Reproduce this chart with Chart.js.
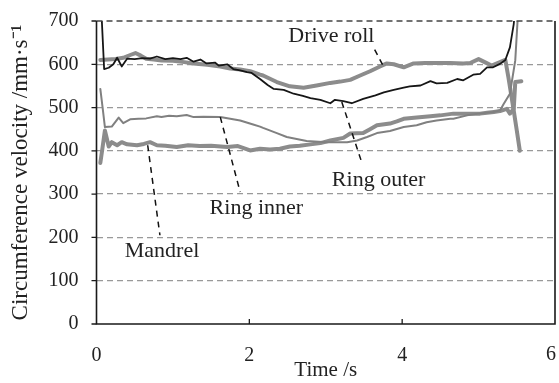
<!DOCTYPE html>
<html>
<head>
<meta charset="utf-8">
<script src="https://cdn.jsdelivr.net/npm/chart.js@4"></script>
<style>
  html, body { margin: 0; padding: 0; background: #fff; }
  #wrap { width: 559px; height: 383px; }
</style>
</head>
<body>
<div id="wrap"><canvas id="myChart" width="559" height="383"></canvas></div>
<script>
// circumference velocity vs time, four measured traces
const outerT = [0.06, 0.07, 0.10, 0.16, 0.22, 0.27, 0.33, 0.40, 0.50, 0.60, 0.70, 0.79, 0.90, 1.00, 1.10, 1.18, 1.27, 1.36, 1.44, 1.55, 1.60, 1.71, 1.79, 1.88, 1.97, 2.03, 2.14, 2.24, 2.32, 2.45, 2.58, 2.70, 2.80, 2.93, 3.06, 3.12, 3.23, 3.34, 3.49, 3.65, 3.76, 3.89, 4.02, 4.10, 4.24, 4.37, 4.45, 4.59, 4.72, 4.80, 4.93, 5.02, 5.11, 5.19, 5.28, 5.35, 5.41, 5.46, 5.48];
const outerV = [720, 700, 589, 592, 600, 615, 595, 613, 612, 614, 613, 618, 612, 614, 612, 615, 606, 611, 602, 604, 597, 600, 589, 586, 582, 580, 566, 552, 543, 541, 532, 527, 522, 518, 510, 518, 515, 510, 520, 528, 535, 541, 546, 549, 551, 561, 556, 557, 566, 563, 576, 578, 593, 593, 601, 610, 639, 693, 730];

const driveT = [0.05, 0.15, 0.25, 0.35, 0.45, 0.51, 0.58, 0.65, 0.75, 0.85, 1.00, 1.15, 1.27, 1.45, 1.62, 1.75, 1.88, 2.01, 2.14, 2.18, 2.36, 2.53, 2.71, 2.88, 3.06, 3.19, 3.32, 3.45, 3.58, 3.71, 3.80, 3.89, 4.02, 4.15, 4.30, 4.50, 4.63, 4.80, 4.89, 5.00, 5.08, 5.17, 5.28, 5.35, 5.39, 5.46, 5.50, 5.54];
const driveV = [610, 611, 612, 615, 622, 626, 620, 613, 611, 609, 608, 605, 602, 599, 595, 590, 588, 584, 576, 574, 559, 549, 546, 551, 557, 560, 564, 574, 584, 595, 602, 600, 593, 602, 603, 603, 603, 602, 603, 612, 605, 597, 605, 610, 570, 493, 447, 400];

const innerT = [0.05, 0.08, 0.11, 0.20, 0.29, 0.35, 0.44, 0.55, 0.65, 0.79, 0.85, 0.95, 1.05, 1.18, 1.27, 1.40, 1.62, 1.75, 1.88, 2.05, 2.14, 2.18, 2.36, 2.49, 2.75, 3.01, 3.28, 3.41, 3.54, 3.67, 3.84, 4.02, 4.19, 4.32, 4.45, 4.63, 4.67, 4.85, 5.00, 5.19, 5.28, 5.33, 5.41, 5.48, 5.51, 5.55];
const innerV = [543, 500, 455, 456, 477, 464, 473, 474, 475, 480, 478, 481, 480, 483, 478, 479, 478, 474, 470, 461, 456, 453, 441, 432, 423, 420, 420, 424, 432, 441, 446, 455, 459, 466, 470, 474, 474, 482, 486, 490, 493, 509, 532, 609, 700, 740];

const mandrelT = [0.05, 0.08, 0.11, 0.16, 0.20, 0.27, 0.33, 0.40, 0.53, 0.62, 0.70, 0.79, 0.90, 1.05, 1.20, 1.35, 1.50, 1.71, 1.85, 2.01, 2.14, 2.27, 2.40, 2.53, 2.66, 2.80, 2.93, 3.06, 3.23, 3.32, 3.49, 3.58, 3.67, 3.84, 3.93, 4.02, 4.19, 4.37, 4.50, 4.67, 4.89, 5.02, 5.11, 5.20, 5.28, 5.37, 5.41, 5.46, 5.48, 5.56];
const mandrelV = [372, 409, 447, 410, 420, 413, 420, 415, 413, 416, 420, 413, 412, 409, 413, 411, 412, 409, 411, 401, 405, 403, 405, 410, 412, 415, 418, 424, 430, 440, 441, 450, 459, 463, 468, 474, 477, 480, 482, 486, 486, 486, 488, 490, 492, 497, 486, 497, 559, 561];

const yTicks = [0, 100, 200, 300, 400, 500, 600, 700];
const xTicks = [0, 2, 4, 6];

// label text, text anchor (left, baseline) and leader line ends, all in data units
const labels = [
  { text: 'Drive roll', at: [2.51, 651], from: [3.64, 634], to: [3.75, 597] },
  { text: 'Ring outer', at: [3.08, 318], from: [3.21, 513], to: [3.47, 374] },
  { text: 'Ring inner', at: [1.48, 254], from: [1.62, 478], to: [1.88, 305] },
  { text: 'Mandrel',    at: [0.37, 155], from: [0.67, 413], to: [0.83, 205] }
];

const serif = '"Liberation Serif", "Times New Roman", serif';
const lastX = xTicks[xTicks.length - 1];

function pts(ts, vs) {
  return ts.map((t, i) => ({ x: t, y: vs[i] }));
}

const frame = {
  id: 'frame',
  afterDatasetsDraw(chart) {
    const ctx = chart.ctx;
    const a = chart.chartArea;
    const xs = chart.scales.x, ys = chart.scales.y;
    ctx.save();
    // top edge, dashed like the grid but darker
    ctx.strokeStyle = '#444';
    ctx.lineWidth = 1.3;
    ctx.setLineDash([6, 4]);
    ctx.beginPath();
    ctx.moveTo(a.left, a.top);
    ctx.lineTo(a.right, a.top);
    ctx.stroke();
    ctx.setLineDash([]);
    ctx.strokeStyle = '#1a1a1a';
    ctx.lineWidth = 1.6;
    ctx.beginPath();
    ctx.moveTo(a.left, a.top);
    ctx.lineTo(a.left, a.bottom);
    ctx.lineTo(a.right, a.bottom);
    ctx.lineTo(a.right, a.top);
    ctx.stroke();
    // tick marks
    ctx.lineWidth = 1.3;
    ctx.beginPath();
    yTicks.forEach(v => {
      const y = ys.getPixelForValue(v);
      ctx.moveTo(a.left - 5, y);
      ctx.lineTo(a.left, y);
    });
    xTicks.slice(1, -1).forEach(v => {
      const x = xs.getPixelForValue(v);
      ctx.moveTo(x, a.bottom);
      ctx.lineTo(x, a.bottom - 5);
    });
    ctx.stroke();

    // last x tick label sits pulled in from the canvas edge
    ctx.fillStyle = '#222';
    ctx.font = '20px ' + serif;
    ctx.textAlign = 'center';
    ctx.textBaseline = 'top';
    ctx.fillText(String(lastX), xs.getPixelForValue(lastX) - 4, a.bottom + 21);

    // leader lines and labels
    ctx.strokeStyle = '#111';
    ctx.lineWidth = 1.5;
    ctx.setLineDash([6, 5]);
    labels.forEach(l => {
      ctx.beginPath();
      ctx.moveTo(xs.getPixelForValue(l.from[0]), ys.getPixelForValue(l.from[1]));
      ctx.lineTo(xs.getPixelForValue(l.to[0]), ys.getPixelForValue(l.to[1]));
      ctx.stroke();
    });
    ctx.setLineDash([]);
    ctx.font = '22px ' + serif;
    ctx.textBaseline = 'alphabetic';
    ctx.textAlign = 'left';
    labels.forEach(l => {
      ctx.fillText(l.text, xs.getPixelForValue(l.at[0]), ys.getPixelForValue(l.at[1]));
    });
    ctx.restore();
  }
};

var ctx = document.getElementById('myChart').getContext('2d');
var chart = new Chart(ctx, {
  type: 'line',
  data: {
    datasets: [
      { label: 'Ring outer', data: pts(outerT, outerV), borderColor: '#161616', borderWidth: 1.8, order: 0 },
      { label: 'Ring inner', data: pts(innerT, innerV), borderColor: '#808080', borderWidth: 2, order: 1 },
      { label: 'Drive roll', data: pts(driveT, driveV), borderColor: '#8c8c8c', borderWidth: 4, order: 2 },
      { label: 'Mandrel', data: pts(mandrelT, mandrelV), borderColor: '#8c8c8c', borderWidth: 4, order: 3 }
    ]
  },
  options: {
    responsive: false,
    animation: false,
    events: [],
    layout: { padding: { left: 0, right: 4, top: 21, bottom: 0 } },
    elements: {
      point: { radius: 0 },
      line: { tension: 0, fill: false, borderJoinStyle: 'round', borderCapStyle: 'round' }
    },
    plugins: {
      legend: { display: false },
      tooltip: { enabled: false }
    },
    scales: {
      x: {
        type: 'linear',
        min: 0, max: 6,
        afterBuildTicks: s => { s.ticks = xTicks.map(v => ({ value: v })); },
        ticks: {
          font: { family: serif, size: 20 }, color: '#222', padding: 12, maxRotation: 0,
          callback: v => (v === lastX ? '' : String(v))
        },
        grid: { display: false },
        border: { display: false },
        title: { display: true, text: 'Time /s', font: { family: serif, size: 21 }, color: '#222', padding: { top: 7, bottom: 0 } },
        afterFit: s => { s.height = 59; s.paddingLeft = 0; s.paddingRight = 0; }
      },
      y: {
        min: 0, max: 700,
        afterBuildTicks: s => { s.ticks = yTicks.map(v => ({ value: v })); },
        ticks: { font: { family: serif, size: 20 }, color: '#222', padding: 18 },
        grid: {
          drawTicks: false,
          color: c => (c.tick.value === 0 || c.tick.value === 700) ? 'rgba(0,0,0,0)' : '#999',
          lineWidth: 1.3
        },
        border: { display: false, dash: [6, 4] },
        title: { display: true, text: 'Circumference velocity /mm·s⁻¹', font: { family: serif, size: 23, lineHeight: 1 }, color: '#222', padding: { top: 9, bottom: 0 } },
        afterFit: s => { s.width = 96.5; s.paddingTop = 0; s.paddingBottom = 0; }
      }
    }
  },
  plugins: [frame]
});
</script>
</body>
</html>
